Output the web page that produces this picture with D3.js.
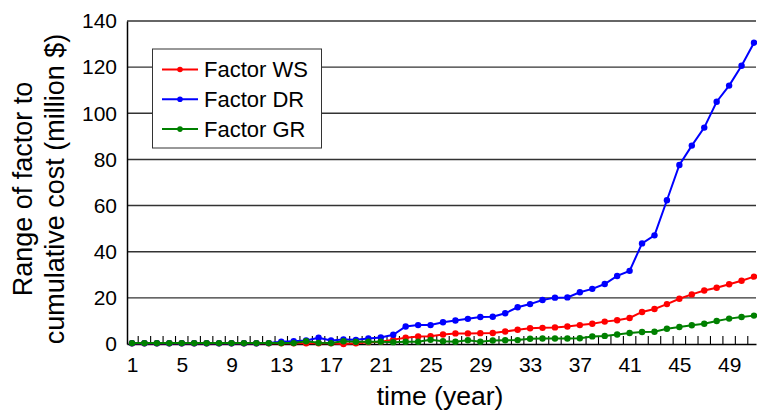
<!DOCTYPE html>
<html><head><meta charset="utf-8">
<script src="https://cdn.jsdelivr.net/npm/d3@7"></script>
<style>html,body{margin:0;padding:0;background:#fff;}svg{display:block;font-family:"Liberation Sans",Arial,Helvetica,sans-serif;}</style>
</head><body><svg id="c" width="757" height="411"></svg>
<script>
const years = d3.range(1, 52);
const xTickLabels = [1,5,9,13,17,21,25,29,33,37,41,45,49];
const yTicks = [0,20,40,60,80,100,120,140];
const seriesNames = ["Factor WS","Factor DR","Factor GR"];
const seriesColors = ["#ff0000","#0000ff","#008000"];
const factorWS = [0.3,0.3,0.3,0.3,0.3,0.3,0.3,0.3,0.3,0.3,0.3,0.3,0.3,0.3,0.3,0.3,0.3,0,0.3,0.8,1.0,1.9,2.7,3.3,3.4,4.1,4.6,4.6,4.7,4.8,5.4,6.2,6.8,7.0,7.2,7.6,8.2,8.8,9.7,10.3,11.3,13.9,15.2,17.3,19.6,21.5,23.2,24.4,25.9,27.4,29.2];
const factorDR = [0.3,0.3,0.3,0.3,0.3,0.3,0.3,0.3,0.3,0.3,0.3,0.4,1.0,1.2,1.5,2.7,1.5,2.0,1.8,2.4,2.8,4.0,7.6,8.2,8.2,9.4,10.2,10.9,11.7,11.8,13.3,15.9,17.3,19.1,20.1,20.2,22.4,23.9,26.0,29.5,31.7,43.6,47.1,62.3,77.6,86.0,93.8,105.0,112.0,120.6,130.6];
const factorGR = [0.4,0.4,0.4,0.4,0.4,0.4,0.4,0.4,0.4,0.4,0.4,0.4,0.4,0.4,1.2,0.5,0.4,1.2,1.0,1.0,1.0,0.8,1.0,1.0,1.8,1.2,1.0,1.6,1.0,1.5,1.6,1.7,2.3,2.4,2.4,2.4,2.5,3.3,3.5,4.1,4.8,5.2,5.3,6.6,7.4,8.1,8.8,10.0,11.0,11.7,12.3];
const seriesValues = [factorWS, factorDR, factorGR];

const svg = d3.select("#c");
const L = 127, R = 756, T = 21, B = 344;
const x = d3.scaleLinear().domain([0.6, 51.16]).range([L, R]);
const y = d3.scaleLinear().domain([0, 140]).range([B, T]);

// gridlines
svg.append("g").selectAll("line").data(yTicks.filter(d => d > 0)).join("line")
  .attr("x1", L).attr("x2", R).attr("y1", d => y(d)).attr("y2", d => y(d))
  .attr("stroke", "#333").attr("stroke-width", 1.4);

// y axis
const yAxis = d3.axisLeft(y).tickValues(yTicks).tickSize(0).tickPadding(10).tickFormat(d3.format("d"));
const gy = svg.append("g").attr("transform", `translate(${L},0)`).call(yAxis);
gy.select(".domain").attr("stroke", "#000").attr("stroke-width", 1.5);
gy.selectAll("text").attr("font-size", 21).attr("fill", "#000").attr("font-family", "Liberation Sans, Arial, sans-serif");

// x axis
const xAxis = d3.axisBottom(x).tickValues(xTickLabels).tickSize(0).tickPadding(13).tickFormat(d3.format("d"));
const gx = svg.append("g").attr("transform", `translate(0,${B})`).call(xAxis);
gx.select(".domain").attr("stroke", "#000").attr("stroke-width", 1.6);
gx.selectAll("text").attr("font-size", 21).attr("fill", "#000").attr("font-family", "Liberation Sans, Arial, sans-serif");

// minor ticks between years
svg.append("g").selectAll("line").data(d3.range(1.5, 51.5, 1)).join("line")
  .attr("x1", d => x(d)).attr("x2", d => x(d)).attr("y1", B).attr("y2", B - 8)
  .attr("stroke", "#000").attr("stroke-width", 1.1);

// series
const line = d3.line().x((d, i) => x(years[i])).y(d => y(d));
seriesValues.forEach((vals, k) => {
  const g = svg.append("g");
  g.append("path").datum(vals).attr("d", line).attr("fill", "none")
    .attr("stroke", seriesColors[k]).attr("stroke-width", 2);
  g.selectAll("circle").data(vals).join("circle")
    .attr("cx", (d, i) => x(years[i])).attr("cy", d => y(d)).attr("r", 3.2)
    .attr("fill", seriesColors[k]);
});

// legend
const lg = svg.append("g");
lg.append("rect").attr("x", 152.5).attr("y", 49).attr("width", 169).attr("height", 99)
  .attr("fill", "#fff").attr("stroke", "#333").attr("stroke-width", 1);
seriesNames.forEach((n, k) => {
  const yy = 69.5 + k * 29.8;
  lg.append("line").attr("x1", 162).attr("x2", 198).attr("y1", yy).attr("y2", yy)
    .attr("stroke", seriesColors[k]).attr("stroke-width", 2);
  lg.append("circle").attr("cx", 180).attr("cy", yy).attr("r", 2.8).attr("fill", seriesColors[k]);
  lg.append("text").attr("x", 204).attr("y", yy + 7.5).attr("font-size", 22).text(n);
});

// axis titles
svg.append("text").attr("x", 440).attr("y", 405).attr("text-anchor", "middle")
  .attr("font-size", 26.5).text("time (year)");
const yt = svg.append("text").attr("transform", "translate(0,189) rotate(-90)").attr("text-anchor", "middle").attr("font-size", 27);
yt.append("tspan").attr("x", 0).attr("y", 32).text("Range of factor to");
yt.append("tspan").attr("x", 0).attr("y", 64).text("cumulative cost (million $)");
</script></body></html>
